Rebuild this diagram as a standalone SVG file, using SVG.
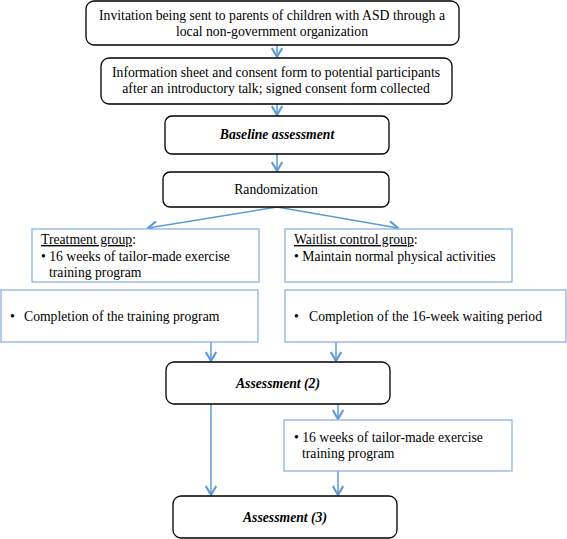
<svg xmlns="http://www.w3.org/2000/svg" width="567" height="539" viewBox="0 0 567 539">
<style>
.rb{fill:#fff;stroke:#000;stroke-width:1.3}
.sb{fill:#fff;stroke:#8db3e2;stroke-width:1.3}
text{font-family:"Liberation Serif","Times New Roman","DejaVu Serif",serif;font-size:13.7px;fill:#000}
.c{text-anchor:middle}
.bi{font-weight:bold;font-style:italic}
.conn{stroke:#5b9bd5;stroke-width:1.5;fill:none}
</style>
<defs>
<marker id="ah" markerUnits="userSpaceOnUse" markerWidth="12" markerHeight="12" refX="7" refY="4" orient="auto" viewBox="0 0 8 8">
<path d="M1,0.5 L7,4 L1,7.5" fill="none" stroke="#5b9bd5" stroke-width="1.4"/>
</marker>
</defs>
<rect width="567" height="539" fill="#fff"/>
<g id="connectors">
<line class="conn" x1="277" y1="45" x2="277" y2="57" marker-end="url(#ah)"/>
<line class="conn" x1="277" y1="104" x2="277" y2="115" marker-end="url(#ah)"/>
<line class="conn" x1="277" y1="154" x2="277" y2="171" marker-end="url(#ah)"/>
<line class="conn" x1="277" y1="207" x2="148" y2="228" marker-end="url(#ah)"/>
<line class="conn" x1="277" y1="207" x2="398" y2="228" marker-end="url(#ah)"/>
<line class="conn" x1="211" y1="342" x2="211" y2="361" marker-end="url(#ah)"/>
<line class="conn" x1="336" y1="342" x2="336" y2="361" marker-end="url(#ah)"/>
<line class="conn" x1="211" y1="404" x2="211" y2="495" marker-end="url(#ah)"/>
<line class="conn" x1="338" y1="404" x2="338" y2="419" marker-end="url(#ah)"/>
<line class="conn" x1="338" y1="471" x2="338" y2="495" marker-end="url(#ah)"/>
</g>
<g id="n1">
<rect class="rb" x="86" y="1" width="373" height="44" rx="8"/>
<text class="c" x="272" y="20">Invitation being sent to parents of children with ASD through a</text>
<text class="c" x="272" y="36">local non-government organization</text>
</g>
<g id="n2">
<rect class="rb" x="101" y="58" width="351" height="46" rx="8"/>
<text class="c" x="276" y="77">Information sheet and consent form to potential participants</text>
<text class="c" x="276" y="93">after an introductory talk; signed consent form collected</text>
</g>
<g id="n3">
<rect class="rb" x="165" y="116" width="224" height="38" rx="7"/>
<text class="c bi" x="277" y="139">Baseline assessment</text>
</g>
<g id="n4">
<rect class="rb" x="163" y="172" width="226" height="35" rx="7"/>
<text class="c" x="276" y="194">Randomization</text>
</g>
<g id="n5">
<rect class="sb" x="32" y="229" width="227" height="53"/>
<text x="41" y="244"><tspan text-decoration="underline">Treatment group</tspan>:</text>
<text x="41" y="261">• 16 weeks of tailor-made exercise</text>
<text x="49" y="277">training program</text>
</g>
<g id="n6">
<rect class="sb" x="285" y="229" width="227" height="53"/>
<text x="294" y="244"><tspan text-decoration="underline">Waitlist control group</tspan>:</text>
<text x="294" y="261">• Maintain normal physical activities</text>
</g>
<g id="n7">
<rect class="sb" x="1" y="290" width="257" height="52"/>
<text x="10" y="321">•</text>
<text x="24" y="321">Completion of the training program</text>
</g>
<g id="n8">
<rect class="sb" x="285" y="290" width="281" height="52"/>
<text x="294" y="321">•</text>
<text x="309" y="321">Completion of the 16-week waiting period</text>
</g>
<g id="n9">
<rect class="rb" x="166" y="362" width="224" height="42" rx="8"/>
<text class="c bi" x="278" y="388">Assessment (2)</text>
</g>
<g id="n10">
<rect class="sb" x="284" y="420" width="228" height="51"/>
<text x="294" y="442">• 16 weeks of tailor-made exercise</text>
<text x="302" y="458">training program</text>
</g>
<g id="n11">
<rect class="rb" x="173" y="496" width="224" height="42" rx="8"/>
<text class="c bi" x="285" y="522">Assessment (3)</text>
</g>
</svg>
